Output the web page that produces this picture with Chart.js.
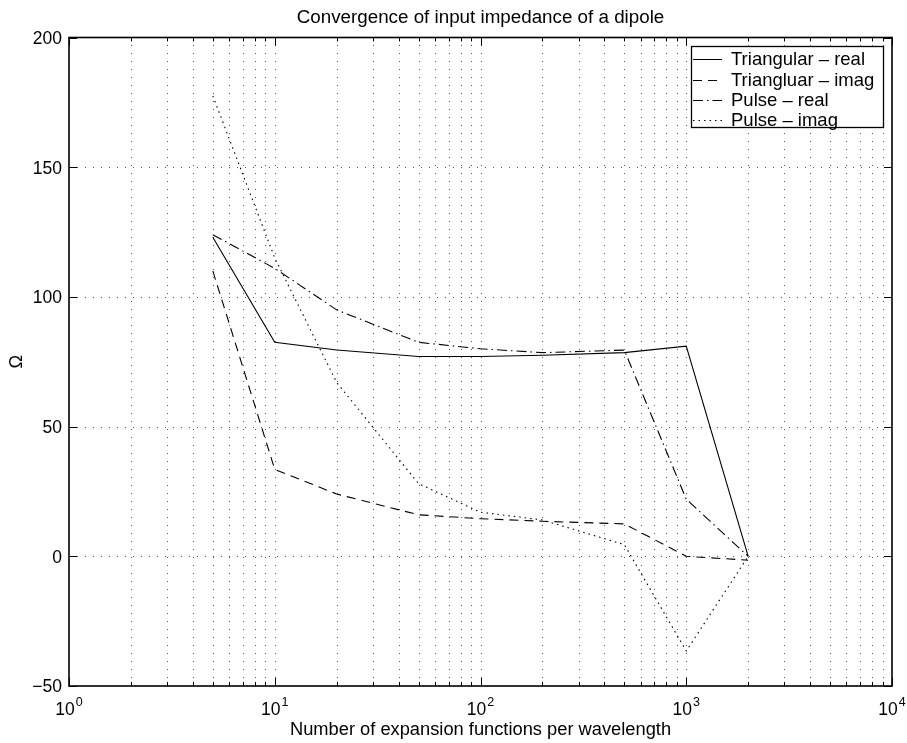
<!DOCTYPE html>
<html>
<head>
<meta charset="utf-8">
<script src="https://cdn.jsdelivr.net/npm/chart.js@4"></script>
<style>
html,body{margin:0;padding:0;background:#fff;}
#wrap{width:907px;height:743px;}
</style>
</head>
<body>
<div id="wrap"><canvas id="c" width="907" height="743"></canvas></div>
<script>
// ---- data ----
const xValues   = [5, 10, 20, 50, 100, 200, 500, 1000, 2000];
const triReal   = [123, 82.5, 79.5, 77, 77, 77.5, 78.5, 81, 0];
const triImag   = [110, 33.5, 24, 16, 14.5, 13.5, 12.5, 0, -1.5];
const pulseReal = [124, 111, 95, 82.5, 80, 78.5, 79.5, 22, 0];
const pulseImag = [177.5, 115, 67, 28, 17, 14, 4.5, -36.5, 0];
const seriesNames = ['Triangular \u2013 real', 'Triangluar \u2013 imag', 'Pulse \u2013 real', 'Pulse \u2013 imag'];
const xTickExponents = [0, 1, 2, 3, 4];
const yTickValues = [-50, 0, 50, 100, 150, 200];
const titleText = 'Convergence of input impedance of a dipole';
const xLabelText = 'Number of expansion functions per wavelength';
const yLabelText = '\u03A9';

const FONT = "'Liberation Sans', Arial, Helvetica, sans-serif";
const dashes = [[], [9, 6], [10, 4, 1.5, 4], [1.5, 4]];

function pts(arr){ return xValues.map((x,i)=>({x:x, y:arr[i]})); }
const allSeries = [triReal, triImag, pulseReal, pulseImag];

const decorPlugin = {
  id: 'decor',
  beforeDatasetsDraw(chart){
    const {ctx, chartArea:a, scales:{x, y}} = chart;
    ctx.save();
    ctx.strokeStyle = '#555';
    ctx.lineWidth = 1;
    ctx.setLineDash([1, 7]);
    for (let e = xTickExponents[0]; e < xTickExponents[xTickExponents.length-1]; e++){
      for (let m = 1; m <= 9; m++){
        const v = m * Math.pow(10, e);
        if (v <= x.min || v >= x.max) continue;
        const px = Math.round(x.getPixelForValue(v)) + 0.5;
        ctx.beginPath(); ctx.moveTo(px, a.bottom); ctx.lineTo(px, a.top); ctx.stroke();
      }
    }
    yTickValues.forEach(v=>{
      if (v <= y.min || v >= y.max) return;
      const py = Math.round(y.getPixelForValue(v)) + 0.5;
      ctx.beginPath(); ctx.moveTo(a.left, py); ctx.lineTo(a.right, py); ctx.stroke();
    });
    ctx.restore();
  },
  afterDraw(chart){
    const {ctx, chartArea:a, scales:{x, y}} = chart;
    ctx.save();
    ctx.setLineDash([]);
    ctx.strokeStyle = '#000';
    ctx.fillStyle = '#000';
    // ticks
    ctx.lineWidth = 1;
    for (let e = xTickExponents[0]; e <= xTickExponents[xTickExponents.length-1]; e++){
      for (let m = 1; m <= 9; m++){
        const v = m * Math.pow(10, e);
        if (v < x.min || v > x.max) continue;
        const len = (m === 1) ? 8 : 4;
        const px = Math.round(x.getPixelForValue(v)) + 0.5;
        ctx.beginPath();
        ctx.moveTo(px, a.bottom); ctx.lineTo(px, a.bottom - len);
        ctx.moveTo(px, a.top); ctx.lineTo(px, a.top + len);
        ctx.stroke();
      }
    }
    yTickValues.forEach(v=>{
      const py = Math.round(y.getPixelForValue(v)) + 0.5;
      ctx.beginPath();
      ctx.moveTo(a.left, py); ctx.lineTo(a.left + 8, py);
      ctx.moveTo(a.right, py); ctx.lineTo(a.right - 8, py);
      ctx.stroke();
    });
    // box
    ctx.lineWidth = 1.6;
    ctx.strokeRect(a.left, a.top, a.right - a.left, a.bottom - a.top);

    // y tick labels
    ctx.font = '17.5px ' + FONT;
    ctx.textAlign = 'right';
    ctx.textBaseline = 'middle';
    yTickValues.forEach(v=>{
      const py = y.getPixelForValue(v);
      const s = v < 0 ? '\u2212' + Math.abs(v) : String(v);
      ctx.fillText(s, a.left - 7, py + 1.5);
    });
    // x tick labels 10^n
    ctx.textBaseline = 'alphabetic';
    ctx.textAlign = 'left';
    xTickExponents.forEach(e=>{
      const px = x.getPixelForValue(Math.pow(10, e));
      ctx.font = '17.5px ' + FONT;
      const wb = ctx.measureText('10').width;
      ctx.font = '12.5px ' + FONT;
      const we = ctx.measureText(String(e)).width;
      const total = wb + 1 + we;
      const x0 = px - total/2;
      ctx.font = '17.5px ' + FONT;
      ctx.fillText('10', x0, a.bottom + 29);
      ctx.font = '12.5px ' + FONT;
      ctx.fillText(String(e), x0 + wb + 1, a.bottom + 20);
    });
    // title
    ctx.font = '18.8px ' + FONT;
    ctx.textAlign = 'center';
    ctx.fillText(titleText, (a.left + a.right)/2, 23);
    // x label
    ctx.font = '18.3px ' + FONT;
    ctx.fillText(xLabelText, (a.left + a.right)/2, 735);
    // y label
    ctx.save();
    ctx.translate(22, (a.top + a.bottom)/2);
    ctx.rotate(-Math.PI/2);
    ctx.textBaseline = 'alphabetic';
    ctx.fillText(yLabelText, 0, 0);
    ctx.restore();

    // legend
    const lx = 691, ly = 46, lw = 192, lh = 81;
    ctx.fillStyle = '#fff';
    ctx.fillRect(lx, ly, lw, lh);
    ctx.lineWidth = 1.3;
    ctx.strokeStyle = '#000';
    ctx.strokeRect(lx + 0.5, ly + 0.5, lw, lh);
    ctx.fillStyle = '#000';
    ctx.font = '18.5px ' + FONT;
    ctx.textAlign = 'left';
    ctx.textBaseline = 'middle';
    const rows = [58.5, 79.5, 100, 119.5];
    seriesNames.forEach((name, i)=>{
      const ry = rows[i];
      ctx.lineWidth = 1;
      ctx.setLineDash(dashes[i]);
      ctx.beginPath(); ctx.moveTo(lx + 2, Math.round(ry) + 0.5); ctx.lineTo(lx + 31, Math.round(ry) + 0.5); ctx.stroke();
      ctx.setLineDash([]);
      ctx.fillText(name, lx + 40, ry + 1);
    });
    ctx.restore();
  }
};

new Chart(document.getElementById('c'), {
  type: 'line',
  data: {
    datasets: allSeries.map((arr, i)=>({
      label: seriesNames[i],
      data: pts(arr),
      borderColor: '#000',
      borderWidth: 1.1,
      borderDash: dashes[i],
      pointRadius: 0,
      tension: 0,
      fill: false
    }))
  },
  options: {
    responsive: false,
    animation: false,
    devicePixelRatio: 1,
    layout: { padding: { left: 69, top: 37.5, right: 15, bottom: 57 } },
    plugins: { legend: { display: false }, title: { display: false }, tooltip: { enabled: false } },
    scales: {
      x: { type: 'logarithmic', min: 1, max: 10000, display: false },
      y: { type: 'linear', min: -50, max: 200, display: false }
    }
  },
  plugins: [decorPlugin]
});
</script>
</body>
</html>
